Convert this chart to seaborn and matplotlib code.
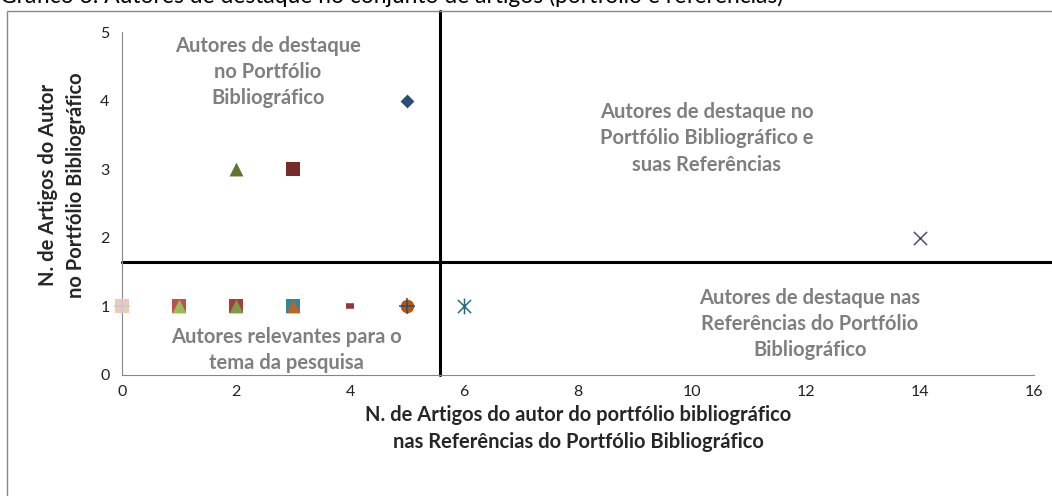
import pandas as pd
import matplotlib.pyplot as plt
import seaborn as sns
from matplotlib.patches import Rectangle
from matplotlib.path import Path

# data: articles in the references (x) vs articles in the portfolio (y)
refs = [0, 0, 1, 1, 2, 2, 3, 3, 4, 5, 5, 6, 5, 3, 2, 14]
portfolio = [1, 1, 1, 1, 1, 1, 1, 1, 1, 1, 1, 1, 4, 3, 3, 2]

# excel style star marker: an x with a vertical bar through it
star = Path([(-1, -1), (1, 1), (-1, 1), (1, -1), (0, -1.2), (0, 1.2)],
            [Path.MOVETO, Path.LINETO, Path.MOVETO, Path.LINETO, Path.MOVETO, Path.LINETO])
markers = ['s', '+', 's', '^', 's', '^', 's', '^', '_', 'o', '+', star, 'D', 's', '^', 'x']
colors = ['#F4C7B4', '#B9CDE5', '#C0504D', '#9BBB59', '#A33E3B', '#7F9A48', '#31859C', '#B8652A',
          '#953735', '#B65708', '#2C4D75', '#276A7C', '#2C4D75', '#772C2A', '#5F7530', '#5C4776']
sizes = [110, 120, 100, 100, 100, 100, 100, 100, 40, 95, 120, 130, 50, 100, 100, 90]

quadrant_texts = ['Autores de destaque\nno Portfólio\nBibliográfico',
                  'Autores de destaque no\nPortfólio Bibliográfico e\nsuas Referências',
                  'Autores relevantes para o\ntema da pesquisa',
                  'Autores de destaque nas\nReferências do Portfólio\nBibliográfico']
quadrant_pos = [(2.56, 4.42), (10.26, 3.45), (2.88, 0.36), (12.07, 0.74)]
cut_x, cut_y = 5.58, 1.65

title = 'Gráfico 3: Autores de destaque no conjunto de artigos (portfólio e referências)'
xlabel = 'N. de Artigos do autor do portfólio bibliográfico\nnas Referências do Portfólio Bibliográfico'
ylabel = 'N. de Artigos do Autor\nno Portfólio Bibliográfico'

sns.set_style('white')
plt.rcParams['font.family'] = ['Lato', 'DejaVu Sans']

df = pd.DataFrame({'refs': refs, 'portfolio': portfolio})

fig = plt.figure(figsize=(10.52, 4.96), dpi=100)
ax = fig.add_axes([0.116, 0.244, 0.867, 0.691])

for i in range(len(df)):
    m = markers[i]
    if m == '_':
        lw = 4
    elif m in ('+', 'x') or isinstance(m, Path):
        lw = 1.1
    else:
        lw = 0
    sns.scatterplot(data=df.iloc[[i]], x='refs', y='portfolio', marker=m, color=colors[i],
                    edgecolor=colors[i], s=sizes[i], linewidth=lw, ax=ax, clip_on=False, zorder=3 + i)

ax.set_xlim(0, 16)
ax.set_ylim(0, 5)
ax.set_xticks(range(0, 17, 2))
ax.set_yticks(range(0, 6))
sns.despine(ax=ax)
for s in ['left', 'bottom']:
    ax.spines[s].set_color('#868686')
ax.tick_params(direction='out', length=5, color='#868686', labelsize=11.5, labelcolor='#222222')
ax.tick_params(axis='y', pad=4)
ax.tick_params(axis='x', pad=2)

ax.axvline(cut_x, ymin=0, ymax=1.061, color='black', lw=2.2, clip_on=False, zorder=2)
ax.axhline(cut_y, xmin=0, xmax=1.02, color='black', lw=2.2, clip_on=False, zorder=2)

for txt, (qx, qy) in zip(quadrant_texts, quadrant_pos):
    ax.text(qx, qy, txt, ha='center', va='center', color='#7F7F7F', fontsize=14.5,
            fontweight='bold', linespacing=1.38)

ax.set_xlabel(xlabel, fontsize=14.5, fontweight='bold', linespacing=1.45)
ax.set_ylabel(ylabel, fontsize=14.5, fontweight='bold', linespacing=1.45)
ax.xaxis.set_label_coords(0.5, -0.088)
ax.yaxis.set_label_coords(-0.040, 0.554)

fig.patches.append(Rectangle((0.0067, -0.02), 1.1, 0.998, transform=fig.transFigure,
                             fill=False, edgecolor='#888888', lw=1))
fig.text(0.0, 0.994, title, ha='left', va='baseline', fontsize=16.4, color='black')

fig.savefig('out.png', dpi=100)
